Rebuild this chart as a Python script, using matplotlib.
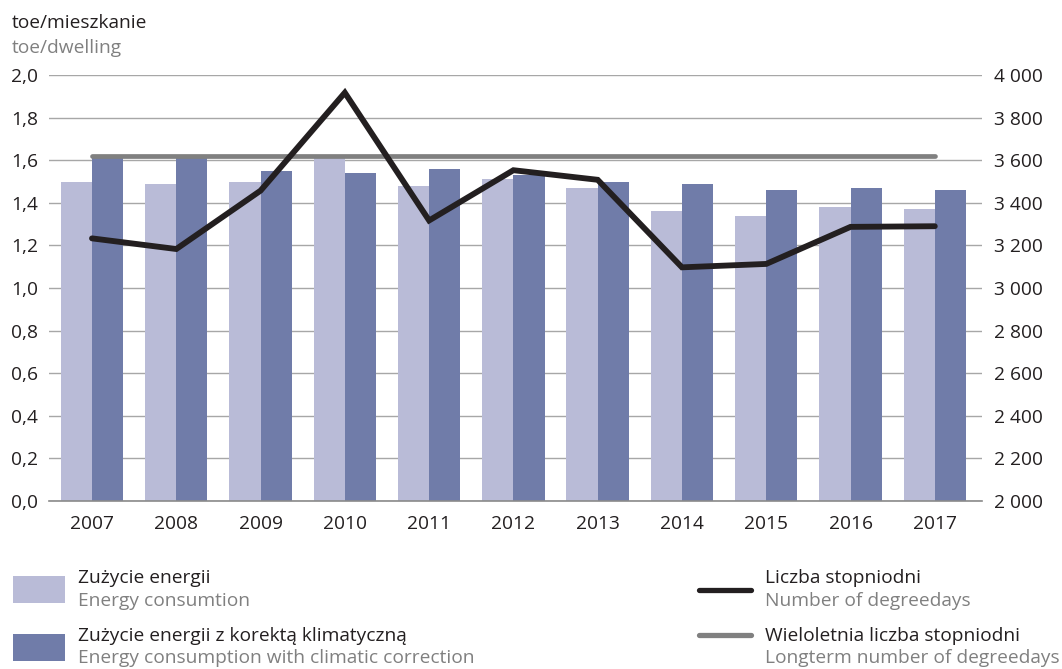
import matplotlib
matplotlib.use("Agg")
import matplotlib.pyplot as plt
import numpy as np
from matplotlib.ticker import FixedLocator, FuncFormatter
from matplotlib.patches import Rectangle
from matplotlib.lines import Line2D

plt.rcParams['font.family'] = ['Open Sans', 'DejaVu Sans']

years = ["2007", "2008", "2009", "2010", "2011", "2012", "2013", "2014", "2015", "2016", "2017"]
energy = [1.50, 1.49, 1.50, 1.61, 1.48, 1.51, 1.47, 1.36, 1.34, 1.38, 1.37]
energy_corr = [1.61, 1.61, 1.55, 1.54, 1.56, 1.53, 1.50, 1.49, 1.46, 1.47, 1.46]
degreedays = [3233, 3183, 3457, 3917, 3317, 3553, 3508, 3097, 3113, 3287, 3290]
longterm = [3621] * len(years)

left_ticks = [0.0, 0.2, 0.4, 0.6, 0.8, 1.0, 1.2, 1.4, 1.6, 1.8, 2.0]
right_ticks = [2000, 2200, 2400, 2600, 2800, 3000, 3200, 3400, 3600, 3800, 4000]

c_light = "#b9bbd7"
c_dark = "#707ca9"
c_black = "#231f20"
c_gray = "#808080"
c_grid = "#a7a7a7"
FS = 13.8

W, H = 1062, 669
fig = plt.figure(figsize=(W / 100, H / 100), dpi=100)
ax = fig.add_axes([49 / W, 1 - 501 / H, (982 - 49) / W, (501 - 75) / H])

x = np.arange(len(years))
bw = 0.37
ax.bar(x - bw / 2, energy, width=bw, color=c_light, zorder=2, linewidth=0)
ax.bar(x + bw / 2, energy_corr, width=bw, color=c_dark, zorder=2, linewidth=0)

ax.set_xlim(-0.51, 10.56)
ax.set_ylim(0, 2.0)
ax.yaxis.set_major_locator(FixedLocator(left_ticks))
ax.yaxis.set_major_formatter(FuncFormatter(lambda v, p: f"{v:.1f}".replace(".", ",")))
ax.set_xticks(x)
ax.set_xticklabels(years)
ax.grid(axis='y', color=c_grid, linewidth=1.0, zorder=0)
ax.set_axisbelow(True)
for s in ['top', 'left', 'right']:
    ax.spines[s].set_visible(False)
ax.spines['bottom'].set_color("#8a8a8a")
ax.spines['bottom'].set_linewidth(1.2)
ax.tick_params(axis='y', length=0, pad=8, labelsize=FS, labelcolor=c_black)
ax.tick_params(axis='x', length=0, pad=10, labelsize=FS, labelcolor=c_black)

ax2 = ax.twinx()
ax2.set_ylim(2000, 4000)
ax2.yaxis.set_major_locator(FixedLocator(right_ticks))
ax2.yaxis.set_major_formatter(FuncFormatter(lambda v, p: f"{int(v):,}".replace(",", " ")))
for s in ['top', 'left', 'right', 'bottom']:
    ax2.spines[s].set_visible(False)
ax2.tick_params(axis='y', length=0, pad=9, labelsize=FS, labelcolor=c_black)
ax2.plot(x, longterm, color=c_gray, linewidth=3.4, solid_capstyle='round', zorder=3)
ax2.plot(x, degreedays, color=c_black, linewidth=4.2, solid_capstyle='round',
         solid_joinstyle='miter', zorder=4)

# Axis title
fig.text(12 / W, 1 - 23 / H, "toe/mieszkanie", fontsize=FS, color=c_black, va='center', ha='left')
fig.text(12 / W, 1 - 48 / H, "toe/dwelling", fontsize=FS, color=c_gray, va='center', ha='left')

# Legend
fig.patches.append(Rectangle((13 / W, 1 - 603 / H), 52 / W, 27 / H, transform=fig.transFigure,
                             color=c_light, linewidth=0))
fig.patches.append(Rectangle((13 / W, 1 - 661 / H), 52 / W, 27 / H, transform=fig.transFigure,
                             color=c_dark, linewidth=0))
fig.lines.append(Line2D([699 / W, 751 / W], [1 - 590 / H, 1 - 590 / H], transform=fig.transFigure,
                        color=c_black, linewidth=3.8, solid_capstyle='round'))
fig.lines.append(Line2D([699 / W, 751 / W], [1 - 635 / H, 1 - 635 / H], transform=fig.transFigure,
                        color=c_gray, linewidth=3.8, solid_capstyle='round'))

leg = [
    (78, 578, "Zużycie energii", c_black),
    (78, 601, "Energy consumtion", c_gray),
    (78, 636, "Zużycie energii z korektą klimatyczną", c_black),
    (78, 658, "Energy consumption with climatic correction", c_gray),
    (765, 578, "Liczba stopniodni", c_black),
    (765, 601, "Number of degreedays", c_gray),
    (765, 636, "Wieloletnia liczba stopniodni", c_black),
    (765, 658, "Longterm number of degreedays", c_gray),
]
for lx, ly, t, c in leg:
    fig.text(lx / W, 1 - ly / H, t, fontsize=FS, color=c, va='center', ha='left')

fig.savefig("out.png", dpi=100)
